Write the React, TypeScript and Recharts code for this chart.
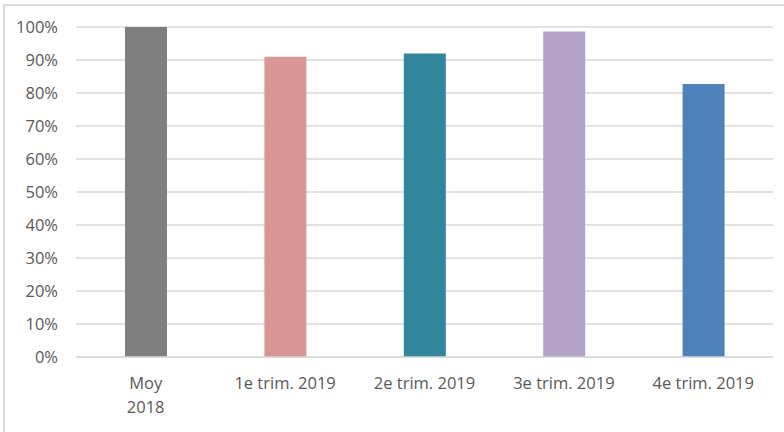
import React from 'react';
import { BarChart, Bar, XAxis, YAxis, CartesianGrid, Cell } from 'recharts';

const categories = ['Moy 2018', '1e trim. 2019', '2e trim. 2019', '3e trim. 2019', '4e trim. 2019'];
const values = [1.0, 0.91, 0.92, 0.986, 0.827];
const barColors = ['#7f7f7f', '#da9694', '#31859c', '#b3a2c7', '#4f81bd'];
const yTicks = [0, 0.1, 0.2, 0.3, 0.4, 0.5, 0.6, 0.7, 0.8, 0.9, 1.0];
const tickLines: Record<string, string[]> = { 'Moy 2018': ['Moy', '2018'] };

const data = categories.map((c, i) => ({ name: c, value: values[i] }));

const FONT = '"Open Sans", sans-serif';
const TEXT = '#595959';

const XTick = (props: any) => {
  const { x, y, payload } = props;
  const lines = tickLines[payload.value] || [payload.value];
  return (
    <g>
      {lines.map((l: string, i: number) => (
        <text key={i} x={x} y={y + i * 24} dy="0.71em" textAnchor="middle" fill={TEXT} fontSize={16.5} fontFamily={FONT}>
          {l}
        </text>
      ))}
    </g>
  );
};

export default function App() {
  return (
    <div style={{ position: 'absolute', left: 0, top: 0, width: 784, height: 432, background: '#fff' }}>
      <div style={{ position: 'absolute', left: 3, top: 4, width: 781, height: 428, borderTop: '2px solid #d9d9d9', borderLeft: '2px solid #d9d9d9', boxSizing: 'border-box' }} />
      <div style={{ position: 'absolute', left: 0, top: 0 }}>
        <BarChart width={784} height={432} data={data} margin={{ top: 27, right: 11, bottom: 0, left: 0 }}>
          <CartesianGrid vertical={false} stroke="#d9d9d9" strokeWidth={1.5} />
          <XAxis
            dataKey="name"
            height={75}
            axisLine={{ stroke: '#d9d9d9', strokeWidth: 1.5 }}
            tickLine={false}
            tickSize={6}
            tickMargin={14}
            interval={0}
            tick={<XTick />}
          />
          <YAxis
            width={76}
            domain={[0, 1]}
            ticks={yTicks}
            interval={0}
            axisLine={false}
            tickLine={false}
            tickSize={6}
            tickMargin={12}
            tickFormatter={(v: number) => `${Math.round(v * 100)}%`}
            tick={{ fill: TEXT, fontSize: 16.5, fontFamily: FONT }}
          />
          <Bar dataKey="value" barSize={42} isAnimationActive={false}>
            {data.map((d, i) => (
              <Cell key={d.name} fill={barColors[i]} />
            ))}
          </Bar>
        </BarChart>
      </div>
    </div>
  );
}
